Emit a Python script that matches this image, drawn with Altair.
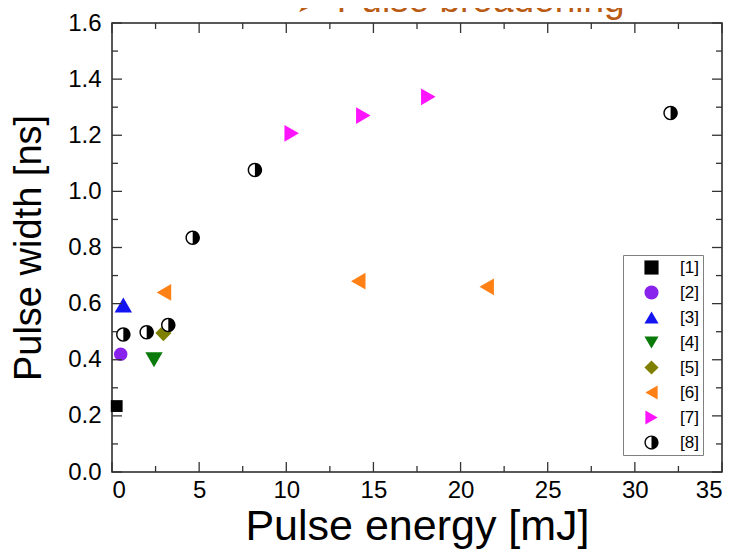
import altair as alt
import pandas as pd

series_names = ["[1]", "[2]", "[3]", "[4]", "[5]", "[6]", "[7]", "[8]"]
series_colors = ["#000000", "#8A22EE", "#1414F0", "#0A7A0A", "#808000", "#FF8014", "#FF14FF", "#000000"]
half_circle = "M0,-1A1,1 0 1,1 0,1A1,1 0 1,1 0,-1Z M0,-0.8A0.8,0.8 0 0,0 0,0.8Z"
series_shapes = ["square", "circle", "triangle-up", "triangle-down", "diamond",
                 "triangle-left", "triangle-right", half_circle]
series_sizes = [140, 180, 300, 300, 260, 280, 280, 210]

energy_1 = [0.27]
width_1 = [0.235]
energy_2 = [0.5]
width_2 = [0.42]
energy_3 = [0.65]
width_3 = [0.595]
energy_4 = [2.41]
width_4 = [0.40]
energy_5 = [2.95]
width_5 = [0.495]
energy_6 = [2.98, 14.13, 21.5]
width_6 = [0.64, 0.68, 0.66]
energy_7 = [10.31, 14.42, 18.15]
width_7 = [1.207, 1.27, 1.337]
energy_8 = [0.65, 1.99, 3.23, 4.63, 8.2, 32.05]
width_8 = [0.49, 0.498, 0.524, 0.835, 1.076, 1.279]

x_major = [0, 5, 10, 15, 20, 25, 30, 35]
x_minor = [2.5, 7.5, 12.5, 17.5, 22.5, 27.5, 32.5]
y_major = [0.0, 0.2, 0.4, 0.6, 0.8, 1.0, 1.2, 1.4, 1.6]
y_minor = [0.1, 0.3, 0.5, 0.7, 0.9, 1.1, 1.3, 1.5]

energies = [energy_1, energy_2, energy_3, energy_4, energy_5, energy_6, energy_7, energy_8]
widths = [width_1, width_2, width_3, width_4, width_5, width_6, width_7, width_8]
rows = []
for name, sz, ex, wy in zip(series_names, series_sizes, energies, widths):
    for e, w in zip(ex, wy):
        rows.append({"series": name, "energy": e, "width": w, "msize": sz})
df = pd.DataFrame(rows)
df_main = df[df["series"] != "[8]"]
df_8 = df[df["series"] == "[8]"]

FONT = "Liberation Sans"
W, H = 610, 449
TICK = "#333333"
MAJOR, MINOR = 10, 6
HALF_THICK = 0.65

xscale = alt.Scale(domain=[0, 35], nice=False, zero=False)
yscale = alt.Scale(domain=[0, 1.6], nice=False, zero=False)


def tick_path(direction, length):
    a = HALF_THICK / length
    if direction == "up":
        return f"M{-a},0L{a},0L{a},-1L{-a},-1Z"
    if direction == "down":
        return f"M{-a},0L{a},0L{a},1L{-a},1Z"
    if direction == "right":
        return f"M0,{-a}L1,{-a}L1,{a}L0,{a}Z"
    return f"M0,{-a}L-1,{-a}L-1,{a}L0,{a}Z"


def x_ticks(values, edge, length, direction):
    d = pd.DataFrame({"v": values, "edge": [edge] * len(values)})
    return alt.Chart(d).mark_point(filled=True, opacity=1, strokeWidth=0, color=TICK,
                                   shape=tick_path(direction, length),
                                   size=(2 * length) ** 2).encode(
        x=alt.X("v:Q", scale=xscale, axis=None),
        y=alt.Y("edge:Q", scale=yscale, axis=None),
    )


def y_ticks(values, edge, length, direction):
    d = pd.DataFrame({"v": values, "edge": [edge] * len(values)})
    return alt.Chart(d).mark_point(filled=True, opacity=1, strokeWidth=0, color=TICK,
                                   shape=tick_path(direction, length),
                                   size=(2 * length) ** 2).encode(
        y=alt.Y("v:Q", scale=yscale, axis=None),
        x=alt.X("edge:Q", scale=xscale, axis=None),
    )


tick_layers = [
    x_ticks(x_major, 0.0, MAJOR, "up"), x_ticks(x_minor, 0.0, MINOR, "up"),
    x_ticks(x_major, 1.6, MAJOR, "down"), x_ticks(x_minor, 1.6, MINOR, "down"),
    y_ticks(y_major, 0.0, MAJOR, "right"), y_ticks(y_minor, 0.0, MINOR, "right"),
    y_ticks(y_major, 35.0, MAJOR, "left"), y_ticks(y_minor, 35.0, MINOR, "left"),
]

axis_x = alt.Axis(orient="bottom", values=x_major, format="d", ticks=False, tickSize=0,
                  domain=False, grid=False, labelFont=FONT, labelFontSize=24,
                  labelColor="black", labelPadding=6, title="Pulse energy [mJ]",
                  titleFont=FONT, titleFontSize=43, titleFontWeight="normal",
                  titleColor="black", titlePadding=3)
axis_y = alt.Axis(orient="left", values=y_major, format=".1f", ticks=False, tickSize=0,
                  domain=False, grid=False, labelFont=FONT, labelFontSize=24,
                  labelColor="black", labelPadding=11, title="Pulse width [ns]",
                  titleFont=FONT, titleFontSize=38, titleFontWeight="normal",
                  titleColor="black", titlePadding=19)

legend = alt.Legend(title=None, orient="none", legendX=511, legendY=232, padding=4,
                    strokeColor="#808080", fillColor="white",
                    labelFont=FONT, labelFontSize=17, labelColor="black",
                    symbolSize=200, symbolStrokeWidth=0, rowPadding=7,
                    labelOffset=20, symbolOffset=16)

color_enc = alt.Color("series:N", scale=alt.Scale(domain=series_names, range=series_colors),
                      legend=legend)
shape_enc = alt.Shape("series:N", scale=alt.Scale(domain=series_names, range=series_shapes),
                      legend=legend)
size_enc = alt.Size("msize:Q", scale=None, legend=None)

main = alt.Chart(df_main).mark_point(filled=True, opacity=1, strokeWidth=0).encode(
    x=alt.X("energy:Q", scale=xscale, axis=axis_x),
    y=alt.Y("width:Q", scale=yscale, axis=axis_y),
    color=color_enc, shape=shape_enc, size=size_enc,
)

under = alt.Chart(df_8).mark_point(filled=True, opacity=1, strokeWidth=0, color="white",
                                    shape="circle", size=200).encode(
    x=alt.X("energy:Q", scale=xscale, axis=None),
    y=alt.Y("width:Q", scale=yscale, axis=None),
)

top8 = alt.Chart(df_8).mark_point(filled=True, opacity=1, strokeWidth=0).encode(
    x=alt.X("energy:Q", scale=xscale, axis=None),
    y=alt.Y("width:Q", scale=yscale, axis=None),
    color=color_enc, shape=shape_enc, size=size_enc,
)

chart = alt.layer(main, *tick_layers, under, top8).resolve_axis(
    x="independent", y="independent"
).properties(
    width=W, height=H,
    autosize=alt.AutoSizeParams(type="none"),
    padding={"left": 104, "top": 15, "right": 8, "bottom": 77},
    title=alt.TitleParams("➤ Pulse broadening", font=FONT, fontSize=37, fontWeight="normal",
                          color="#B95B12", anchor="middle", frame="group", dx=43,
                          baseline="alphabetic", offset=0, dy=38),
).configure_view(stroke="#222222", strokeWidth=1.5)

chart.save("out.html", embed_options={"renderer": "svg", "actions": False})
